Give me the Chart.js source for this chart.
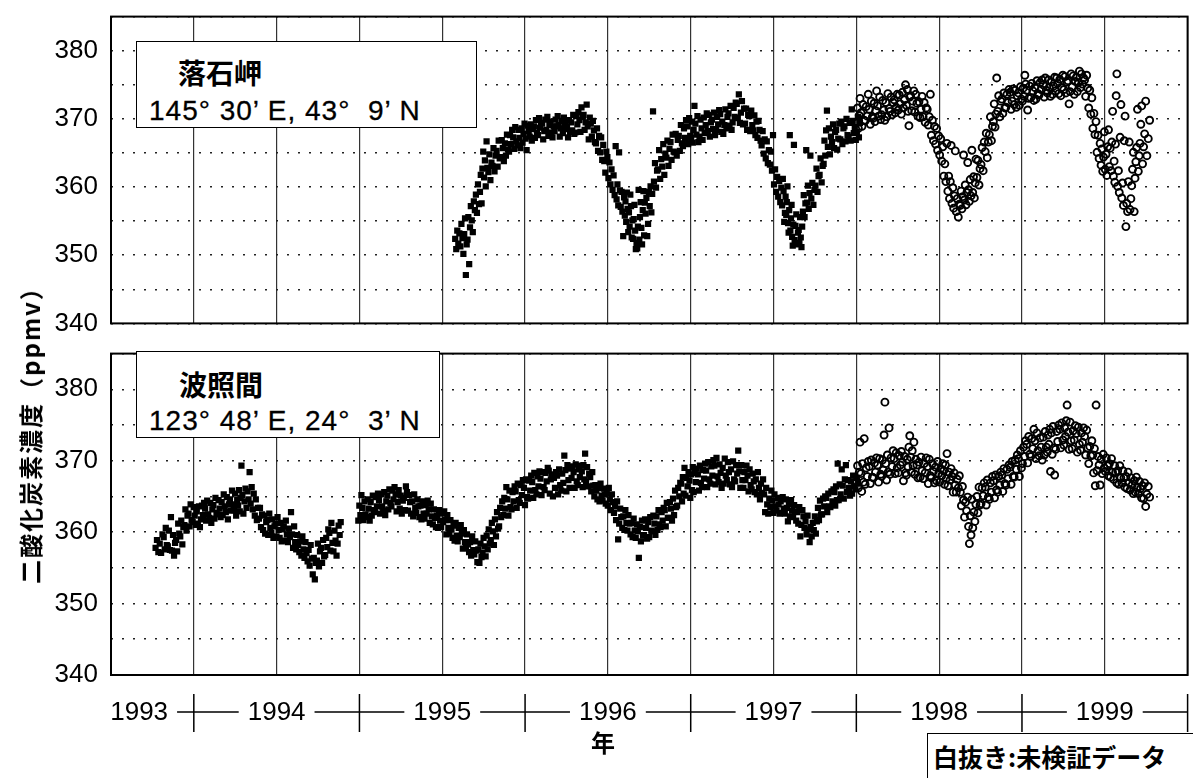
<!DOCTYPE html>
<html>
<head>
<meta charset="utf-8">
<script src="https://cdn.jsdelivr.net/npm/chart.js@4.4.1/dist/chart.umd.min.js"></script>
<style>
  body { margin:0; background:#fff; width:1193px; height:778px; overflow:hidden; position:relative;
         font-family:"Liberation Sans", Arial, sans-serif; }
  canvas { position:absolute; left:0; }
  #topChart { top:-12px; }
  #bottomChart { top:325px; }
  .box { position:absolute; background:#fff; border:1.5px solid #000; box-sizing:border-box; z-index:2; }
  .name { position:absolute; font-family:"Noto Sans CJK JP", sans-serif; font-weight:700; font-size:28px; line-height:1; white-space:nowrap; }
  .coord { position:absolute; font-size:28px; line-height:1; letter-spacing:1px; white-space:nowrap; -webkit-text-stroke:0.3px #000; }
  #ytitle { position:absolute; left:30px; top:429px; transform:translate(-50%,-50%) rotate(-90deg);
            font-family:"Noto Sans CJK JP", sans-serif; font-weight:700; font-size:24px; letter-spacing:2px; line-height:1; white-space:nowrap; z-index:2; }
  #xtitle { position:absolute; left:603px; top:742px; transform:translate(-50%,-50%);
            font-family:"Noto Sans CJK JP", sans-serif; font-weight:700; font-size:24px; line-height:1; z-index:2; }
  #legendBox { left:927px; top:733px; width:270px; height:60px; }
  #legendBox span { position:absolute; left:5px; top:10px; font-family:"Noto Sans CJK JP", sans-serif; font-weight:700; font-size:25px; line-height:1; white-space:nowrap; }
</style>
</head>
<body>
<canvas id="topChart" width="1193" height="364"></canvas>
<canvas id="bottomChart" width="1193" height="440"></canvas>

<div class="box" style="left:136px; top:41px; width:341px; height:87px;">
  <span class="name" style="left:41px; top:16px;">落石岬</span>
  <span class="coord" style="left:12px; top:55px;">145° 30’ E, 43°&nbsp; 9’ N</span>
</div>
<div class="box" style="left:136px; top:351px; width:304px; height:87px;">
  <span class="name" style="left:42px; top:18px;">波照間</span>
  <span class="coord" style="left:12px; top:55px;">123° 48’ E, 24°&nbsp; 3’ N</span>
</div>
<div id="ytitle">二酸化炭素濃度（ppmv）</div>
<div id="xtitle">年</div>
<div class="box" id="legendBox"><span>白抜き:未検証データ</span></div>

<script>
//x axis: decimal years, one group of daily readings every 0.025 yr
var stepYears = 0.025;
var yearLabels = ['1993', '1994', '1995', '1996', '1997', '1998', '1999'];
var yearLabelAt = [1993.67, 1994.5, 1995.5, 1996.5, 1997.5, 1998.5, 1999.5];
var yearBounds = [1994, 1995, 1996, 1997, 1998, 1999, 2000];

//Ochiishi (落石岬) verified - filled squares
var ochiishiFilledStart = 1995.575;
var ochiishiFilled = [
[352.4,350.9,353.6,351.7],[353.2,351.3,354.6,352.5],[350.2,353.1,355.4,347.1,351.6],[352.3,355.6,348.7,354.1,357.2],[355.1,353.4,357.9,356.6],[358.9,356.2,360.4,357.5],[359.3,361.8,357.6,362.7,365.2],[361.4,363.9,360.1,366.7,362.8],
[362.2,364.8,361.0,363.6],[363.1,365.7,362.3,364.6],[365.3,363.0,366.8,364.2],[364.4,366.9,365.7,363.8],[366.4,364.6,367.7,365.5],[365.2,367.6,366.3,368.4],[367.3,365.6,368.8,366.7],[366.1,368.4,367.2,365.7],
[368.6,366.5,367.8,369.3],[367.1,365.4,369.0,368.2],[367.4,369.2,366.8,368.5],[368.9,367.2,369.8,368.0],[367.6,370.1,368.7,369.4],[369.3,367.0,368.2,369.9],[368.4,370.3,367.5,369.1],[369.6,368.0,367.3,368.9],
[368.2,369.9,368.9,370.4],[369.1,367.4,368.6,369.7],[367.9,370.2,369.4,368.5],[368.8,367.3,369.8,368.1],[369.5,368.3,370.6,367.8],[368.0,370.4,369.2,371.0],[369.8,368.1,371.7,370.3],[370.6,368.4,369.5,372.1],
[368.9,367.0,370.2,369.3],[367.4,369.7,368.3,366.6],[366.4,368.6,365.3,367.5],[365.1,367.3,364.0,366.2],[363.8,362.1,365.2,364.4],[361.3,363.6,360.4,362.6],[359.6,361.7,358.8,366.0],[358.2,360.4,357.3,365.1,359.5],
[357.1,359.3,356.4,352.8,358.5],[355.8,357.9,354.9,359.2,356.8,353.4],[356.3,354.2,358.9,357.2,352.6,355.1],[352.4,355.3,357.4,353.6,350.9,351.8],[351.0,354.2,359.6,352.3,355.6,357.8],[354.0,351.6,356.6,359.4,352.9,357.7],[356.1,358.4,352.8,354.6,359.3],[357.2,360.1,356.3,359.0,371.1],
[360.8,363.5,359.9,362.4],[362.6,365.4,361.2,364.1],[363.0,366.3,361.8,364.9],[364.3,366.8,363.1,365.6],[366.6,364.0,367.7,365.2],[365.1,367.8,364.6,366.9],[367.5,365.3,369.1,366.4],[366.0,368.6,367.2,369.8],
[368.9,366.3,370.1,367.5],[367.2,369.6,366.5,368.4,371.9],[369.3,367.7,370.4,366.6],[367.4,369.9,368.6,366.9],[370.2,367.9,369.1,370.8],[368.2,370.6,367.4,369.5],[369.9,368.5,370.9,367.6],[368.4,370.3,369.2,371.3],
[370.7,368.1,369.6,367.8],[369.1,371.4,368.6,370.3],[370.8,369.0,371.9,368.4],[369.5,371.6,370.3,372.4],[372.2,370.1,373.6,369.4],[370.9,372.6,369.2,371.5],[369.3,371.5,368.4,370.6],[370.4,368.2,371.2,369.1],
[368.3,370.5,367.6,369.6],[367.2,369.7,368.4,366.8],[366.1,368.2,364.9,367.0],[364.2,366.7,363.5,365.4],[363.3,365.2,362.4,367.6],[360.4,362.6,359.3,361.5],[358.6,360.9,357.8,359.9],[357.3,361.2,359.4,354.9,356.2,358.6],
[355.9,357.8,360.1,354.7,353.3,356.6,367.6],[353.6,355.4,357.4,352.7,351.4,354.5,366.2],[352.2,354.3,356.0,351.6,353.3],[353.7,351.8,355.6,352.6,351.2,354.2],[356.4,358.8,355.6,357.6,365.4],[357.7,360.2,356.8,359.1,364.6],[358.3,360.6,357.4,359.6],[360.2,362.7,359.3,361.6],
[361.8,364.2,360.7,363.1],[363.4,366.8,364.6,368.3,371.2],[365.9,368.6,364.8,367.4],[366.6,369.2,365.7,368.1],[368.4,365.5,367.1,369.3],[367.0,369.6,366.3,368.6],[368.9,366.7,370.0,367.6],[367.4,369.4,366.8,371.4],
[369.7,367.9,368.8,366.9],[368.1,370.3,367.3,369.4]
];

//Ochiishi unverified - open circles
var ochiishiOpenStart = 1998.0;
var ochiishiOpen = [
[369.4,371.6,368.6,370.5,373.0],[370.9,368.9,372.1,369.8],[369.7,371.8,370.4,373.6],[371.4,369.2,372.6,370.3],[370.1,372.3,369.6,371.2,374.1],[371.9,370.4,373.2,369.9],[370.6,372.7,371.3,369.8],[372.4,370.3,373.7,371.5],
[371.1,373.2,370.6,372.4],[372.8,370.9,371.7,373.6],[371.3,373.5,372.2,370.7],[373.9,371.6,372.8,375.0],[372.0,374.3,371.1,369.0,373.2],[373.4,371.2,372.6,374.1],[371.0,373.6,372.3,370.4],[372.5,370.2,371.4,373.3],
[370.3,372.4,369.5,371.6],[371.4,369.1,370.3,373.6],[367.6,369.8,366.8,368.9],[366.3,368.6,365.4,367.5],[364.7,367.1,363.8,365.9],[361.6,363.4,360.8,366.4],[359.4,361.6,358.3,360.8,366.1],[357.6,359.9,356.9,358.7,365.3],
[356.4,358.3,355.6,357.5],[357.3,359.4,356.8,358.6,364.7],[358.1,360.3,357.4,359.2,363.6],[359.6,357.9,361.1,358.7,365.4],[359.2,361.5,358.4,360.6,364.1],[361.4,363.9,360.3,362.7],[363.3,365.8,362.4,366.6],[365.2,367.9,364.3,366.6],
[367.7,370.3,366.8,368.9],[369.6,372.2,368.8,370.7,376.0],[371.1,373.4,370.3,372.6],[372.9,370.8,373.8,371.6],[371.7,373.6,372.4,374.3],[373.9,371.4,372.6,374.4],[372.1,374.2,371.7,373.4],[373.8,372.0,374.7,372.9],
[372.6,374.5,373.3,376.4,375.1],[374.2,371.3,373.0,374.8],[373.1,375.2,374.1,372.7],[374.6,372.9,375.6,373.7],[373.5,375.3,374.3,375.7],[375.0,373.2,376.0,374.2],[373.8,375.7,374.6,373.3],[375.4,373.6,374.8,376.1],
[374.1,376.0,375.2,373.7],[375.8,373.4,374.6,376.4],[374.3,376.2,373.8,375.4],[375.6,372.2,374.0,376.6],[374.7,376.3,373.6,375.5],[376.1,374.0,375.3,377.0],[374.6,376.6,375.1,376.0],[375.7,373.3,376.4,374.5],
[371.6,374.2,370.7,373.1],[368.6,370.8,367.7,369.6],[365.1,367.6,364.2,366.4],[363.2,365.6,362.3,364.4,368.1],[362.6,364.8,361.7,365.9,368.4],[363.0,365.7,362.4,366.6,371.1],[361.6,363.8,360.7,366.3,373.4,376.6],[360.1,362.4,359.2,367.3,372.1],
[358.4,360.6,357.3,366.8,370.4],[354.2,357.6,356.4,360.8,366.6],[356.7,358.3,360.2,362.6,365.1],[356.4,361.3,363.7,365.8,371.4],[362.3,364.6,366.4,369.2,371.9],[363.4,365.9,367.8,372.6],[364.6,367.1,369.8]
];

//Hateruma (波照間) verified - filled squares
var haterumaFilledStart = 1993.765;
var haterumaFilled = [
[357.8,358.9,357.2],[358.4,357.1,359.7],[359.3,357.6,360.6,358.2],[358.0,360.2,357.5,362.1],[357.4,359.6,356.7,358.5],[358.9,357.3,361.2,359.8],[359.4,361.6,358.3,360.7],[361.0,363.2,360.2,362.3],
[362.6,360.8,363.9,361.7],[361.4,363.5,362.3,361.0],[362.9,361.2,363.6,360.7],[361.8,363.7,362.4,364.1],[363.3,361.6,364.4,362.5],[362.0,364.1,361.3,363.2],[363.8,361.9,364.8,362.7],[362.5,364.5,363.3,362.1],
[364.2,362.4,365.3,363.6],[362.8,364.9,361.8,363.9],[364.6,363.0,365.8,363.9],[363.1,365.4,362.3,364.5],[363.7,365.9,362.9,364.8,369.3],[365.2,362.6,364.3,366.1],[363.4,365.7,364.6,368.4],[364.0,366.3,363.2,365.4],
[362.3,364.6,361.7,363.4],[361.9,363.4,360.7,362.5],[360.3,362.3,359.8,361.4],[361.7,359.6,362.6,360.6],[359.9,361.8,359.2,360.8],[361.2,359.4,362.1,360.3],[359.2,361.3,358.7,360.4],[360.8,358.8,361.6,359.7],
[358.6,360.5,359.3,362.8],[359.7,357.8,360.8,358.6],[357.6,359.6,358.2,357.2],[358.7,356.7,359.4,357.6],[356.4,358.6,357.1,355.9],[357.5,355.3,358.2,356.3],[354.1,356.4,353.4,355.7],[356.0,358.4,355.2,357.3],
[357.8,355.7,358.9,356.6],[356.8,359.2,357.9,360.4],[359.9,357.4,361.3,358.5],[357.3,360.2,358.8,356.7],[358.4,360.9,359.6,361.4],[],[],[],
[],[361.6,363.7,362.4,365.2],[363.4,361.7,364.3,362.5],[362.1,364.6,363.3,361.6],[364.2,362.3,365.1,363.1],[362.8,364.9,363.6,365.4],[364.5,362.6,365.3,363.6],[363.0,365.6,362.4,364.3],
[365.1,363.2,366.0,364.1],[363.6,365.8,364.6,366.3],[365.3,362.9,364.2,365.9],[363.3,365.1,362.6,364.4],[364.8,363.1,366.4,365.6],[363.0,365.2,364.2,362.6],[364.3,362.2,365.3,363.4],[362.7,364.6,363.6,362.1],
[363.7,361.8,364.3,362.6],[361.9,363.8,362.6,364.4],[363.2,361.3,364.0,362.2],[361.1,363.2,362.0,360.7],[362.3,360.6,363.1,361.6],[360.7,362.6,361.4,362.9],[361.7,359.7,362.4,360.6],[359.8,361.7,360.4,359.2],
[360.9,358.8,361.3,359.5],[358.7,360.6,359.3,361.0],[359.8,357.7,360.3,358.6],[357.8,359.7,358.3,357.2],[358.6,356.7,359.4,357.5],[356.9,358.7,357.4,355.8],[357.6,355.7,358.4,356.5],[357.1,359.2,358.0,356.6],
[359.5,357.6,360.4,358.4],[358.9,361.3,360.1,358.2],[361.8,359.4,362.8,360.5],[360.8,363.4,362.1,364.3],[362.4,364.8,363.3,366.3],[364.6,362.3,365.8,363.5],[363.2,365.6,364.3,366.4],[365.7,363.4,366.8,364.5],
[364.1,366.6,365.2,367.3],[366.2,363.8,367.4,364.9],[364.7,367.2,365.8,367.9],[367.0,364.8,368.3,365.9],[365.3,367.8,366.4,368.5],[367.5,365.2,368.4,366.3],[365.9,368.3,367.1,369.0],[368.6,365.4,367.4,368.1],
[365.0,367.6,366.2,368.4],[367.9,365.3,368.8,366.6],[365.8,368.2,366.9,370.7],[368.7,365.7,369.4,367.3],[366.2,368.9,367.6,369.2],[368.4,366.2,369.5,367.1],[366.6,368.8,367.7,369.3],[368.5,366.3,369.4,367.4,371.0],
[367.0,369.1,366.4,368.2],[367.7,365.7,368.4,366.5],[365.0,366.6,365.8,364.6],[366.2,364.3,366.8,365.1],[364.4,366.1,365.3,364.0],[365.4,363.7,366.2,364.6],[363.1,365.3,364.2,362.7],[363.6,361.7,364.3,359.0],
[361.2,363.3,362.1,360.6],[362.2,360.3,363.1,361.3],[360.2,362.4,361.2,359.7],[361.3,359.3,361.9,360.2],[359.2,361.1,360.1,356.4],[360.7,358.7,361.6,359.5],[359.6,361.8,360.6,359.1],[361.4,359.3,362.1,360.2],
[360.1,362.3,361.2,359.6],[362.2,360.3,363.1,361.1],[360.7,362.8,361.6,363.4],[363.1,360.8,364.1,362.0],[362.0,364.2,363.3,361.6],[364.7,362.4,365.8,363.5],[363.7,366.2,365.0,366.9],[366.8,364.3,367.7,365.4,369.0],
[365.1,367.6,366.4,368.4],[367.2,364.8,368.1,365.9,369.1],[365.6,368.3,367.0,368.9],[368.1,365.8,369.3,366.9],[366.3,368.7,367.5,369.6],[368.6,366.3,369.8,367.4],[366.8,369.2,367.9,370.1],[369.3,366.7,370.4,367.8],
[367.0,369.5,368.3,366.2],[369.0,366.8,370.3,367.9],[367.3,369.8,368.4,366.7],[368.8,366.3,369.9,367.4],[367.1,369.4,368.2,371.4],[368.5,366.2,369.4,367.3],[366.2,368.4,367.3,369.3],[367.9,365.7,368.8,366.6],
[366.0,368.2,367.1,365.6],[367.4,365.3,368.4,366.2],[364.6,366.8,365.5,367.4],[365.3,362.8,366.2,363.9],[362.6,364.7,363.5,365.8],[364.4,362.7,365.3,363.6],[363.0,364.8,363.9,362.6],[364.3,362.7,364.9,363.3],
[362.6,364.6,363.4,361.5],[363.9,362.2,364.5,363.0],[362.1,363.8,362.9,361.6],[362.8,361.2,363.5,359.4],[361.0,363.1,362.2,360.6],[361.5,359.7,362.3,360.4],[358.6,360.7,359.4,361.3],[360.3,362.2,359.8,361.5],
[363.4,361.7,364.4,362.5],[362.5,364.7,363.6,365.0],[364.8,362.8,365.4,363.6],[363.5,365.7,364.3,366.0],[365.6,363.7,366.4,364.5,369.6],[364.5,366.7,365.3,368.8],[366.5,364.7,367.4,369.4],[365.6,367.3,366.2,365.1],
[367.1,365.4,367.9,366.4],[366.0,367.6,366.8]
];

//Hateruma unverified - open circles
var haterumaOpenStart = 1998.0;
var haterumaOpen = [
[367.1,369.3,366.2,368.4,372.6],[368.2,365.7,369.6,367.0,373.1],[366.7,369.0,367.8,369.9],[369.2,366.8,370.1,367.7],[367.6,369.7,368.4,370.4],[369.4,367.0,370.3,368.1],[367.8,370.1,368.7,373.6,378.2],[369.6,367.3,370.8,368.4,374.6],
[368.1,370.4,369.2,371.4],[370.3,368.2,371.1,369.0],[368.3,370.7,369.4,371.3],[369.8,367.2,370.6,368.3],[368.0,370.2,369.1,371.9,373.5],[370.5,368.4,371.4,369.3,372.6],[368.1,370.2,369.4,367.6],[369.8,367.7,370.5,368.6],
[367.5,369.6,368.3,370.4],[369.2,366.8,370.2,367.9],[367.6,369.6,368.5,366.9],[369.1,367.2,369.9,368.2],[367.0,368.9,367.9,369.6],[368.6,366.7,369.4,367.5,371.0],[366.5,368.4,367.3,368.9],[367.8,365.6,368.3,366.6],
[365.6,367.4,366.2,367.9],[365.6,363.7,366.4,364.5],[362.1,364.2,363.0,364.9],[360.8,358.4,362.3,359.6,364.6],[360.6,362.8,361.5,363.9],[365.0,362.7,366.3,363.8],[364.0,366.2,365.1,366.9],[366.3,363.8,367.3,364.9],
[364.6,366.9,365.6,367.8],[367.2,364.8,368.0,365.9],[365.6,367.8,366.6,368.4],[368.0,365.7,368.9,366.8],[366.6,368.8,367.5,369.4],[369.1,366.7,369.9,367.8],[367.7,370.1,368.8,370.8],[370.3,367.8,371.4,369.0],
[369.6,371.9,370.6,372.8],[372.3,369.7,373.4,370.9],[370.6,373.1,371.7,374.4],[372.8,370.3,373.9,371.4],[370.7,373.2,371.9,370.1],[373.3,370.8,374.1,371.9],[371.2,373.6,372.3,374.4,368.5],[373.9,370.9,374.8,371.8,368.0],
[371.6,374.1,372.7,375.0],[374.4,371.8,375.3,372.9],[372.2,374.6,373.4,375.6,377.8],[374.0,371.6,375.4,372.8],[371.7,374.2,372.9,374.9],[373.8,371.2,374.7,372.3],[371.5,373.9,372.6,374.6],[373.4,370.8,374.3,371.8],
[369.6,372.0,370.7,372.8],[370.8,368.3,371.7,366.5,377.8],[368.6,370.6,369.4,366.6],[370.2,368.2,370.9,369.0],[368.5,370.4,369.3,367.9],[369.6,367.7,370.3,368.4],[367.4,369.3,368.4,366.9],[368.6,366.7,369.3,367.6],
[366.9,368.6,367.6,366.3],[367.8,366.1,368.4,366.9],[365.9,367.6,366.6,365.4],[367.2,365.6,367.7,366.3],[365.4,367.1,366.1,364.8],[366.5,364.7,366.9,363.6],[365.3,366.4,364.9]
];

//turn the groups into scatter points, readings of one group spread over its step
function toPoints(start, groups) {
    var pts = [];
    for (var i = 0; i < groups.length; i++) {
        var g = groups[i];
        for (var j = 0; j < g.length; j++) {
            pts.push({ x: start + (i + (j + 0.5) / g.length) * stepYears, y: g[j] });
        }
    }
    return pts;
}

Chart.defaults.font.family = '"Liberation Sans", Arial, sans-serif';
Chart.defaults.color = '#000';

//black frame round the plot area
var frame = {
    id: 'frame',
    afterDatasetsDraw(chart) {
        var a = chart.chartArea, ctx = chart.ctx;
        ctx.save();
        ctx.strokeStyle = '#000';
        ctx.lineWidth = 2;
        ctx.strokeRect(a.left, a.top, a.right - a.left, a.bottom - a.top);
        ctx.restore();
    }
};

//year labels with the long dashes and boundary ticks below the lower panel
var yearAxis = {
    id: 'yearAxis',
    afterDraw(chart) {
        var ctx = chart.ctx, a = chart.chartArea, xs = chart.scales.x;
        var y = a.bottom + 37;
        ctx.save();
        ctx.font = '26px "Liberation Sans", Arial, sans-serif';
        ctx.fillStyle = '#000';
        ctx.strokeStyle = '#000';
        ctx.lineWidth = 1.5;
        ctx.textAlign = 'center';
        ctx.textBaseline = 'middle';
        var spans = [];
        for (var k = 0; k < yearLabels.length; k++) {
            var px = xs.getPixelForValue(yearLabelAt[k]);
            var w = ctx.measureText(yearLabels[k]).width;
            ctx.fillText(yearLabels[k], px, y + 1);
            spans.push([px - w / 2 - 9, px + w / 2 + 9]);
        }
        ctx.beginPath();
        for (var k = 0; k < spans.length; k++) {
            var to = k + 1 < spans.length ? spans[k + 1][0] : a.right;
            ctx.moveTo(spans[k][1], y);
            ctx.lineTo(to, y);
        }
        for (var b = 0; b < yearBounds.length; b++) {
            var bx = xs.getPixelForValue(yearBounds[b]);
            ctx.moveTo(bx, y - 18);
            ctx.lineTo(bx, y + 20);
        }
        ctx.stroke();
        ctx.restore();
    }
};

function makePanel(id, filled, open, padBottom, xHeight, plugins) {
    new Chart(document.getElementById(id), {
        type: 'scatter',
        data: {
            datasets: [{
                data: filled,
                pointStyle: 'rect',
                pointRadius: 4.4,
                pointHoverRadius: 4.4,
                pointBackgroundColor: '#000',
                pointBorderWidth: 0
            }, {
                data: open,
                pointStyle: 'circle',
                pointRadius: 3.5,
                pointHoverRadius: 3.5,
                pointBackgroundColor: 'rgba(255,255,255,0)',
                pointBorderColor: '#000',
                pointBorderWidth: 1.9
            }]
        },
        options: {
            responsive: false,
            animation: false,
            devicePixelRatio: 1,
            layout: { padding: { top: 20, bottom: padBottom, left: 0, right: 5 } },
            plugins: { legend: { display: false }, tooltip: { enabled: false } },
            scales: {
                x: {
                    type: 'linear',
                    min: 1993.5,
                    max: 2000,
                    afterFit: function (s) { s.height = xHeight; },
                    ticks: { stepSize: 0.5, display: false },
                    grid: { color: '#333', lineWidth: 1.2, drawTicks: false },
                    border: { display: false }
                },
                y: {
                    min: 340,
                    max: 385,
                    afterFit: function (s) { s.width = 111; },
                    ticks: {
                        stepSize: 5,
                        autoSkip: false,
                        padding: 13,
                        font: { size: 26 },
                        callback: function (v) { return v % 10 === 0 ? String(v) : ''; }
                    },
                    grid: { color: '#222', lineWidth: 1.6, drawTicks: false },
                    border: { display: false, dash: [2, 9] }
                }
            }
        },
        plugins: [frame].concat(plugins)
    });
}

makePanel('topChart', toPoints(ochiishiFilledStart, ochiishiFilled), toPoints(ochiishiOpenStart, ochiishiOpen), 21, 0, []);
makePanel('bottomChart', toPoints(haterumaFilledStart, haterumaFilled), toPoints(haterumaOpenStart, haterumaOpen), 0, 90, [yearAxis]);
</script>
</body>
</html>
